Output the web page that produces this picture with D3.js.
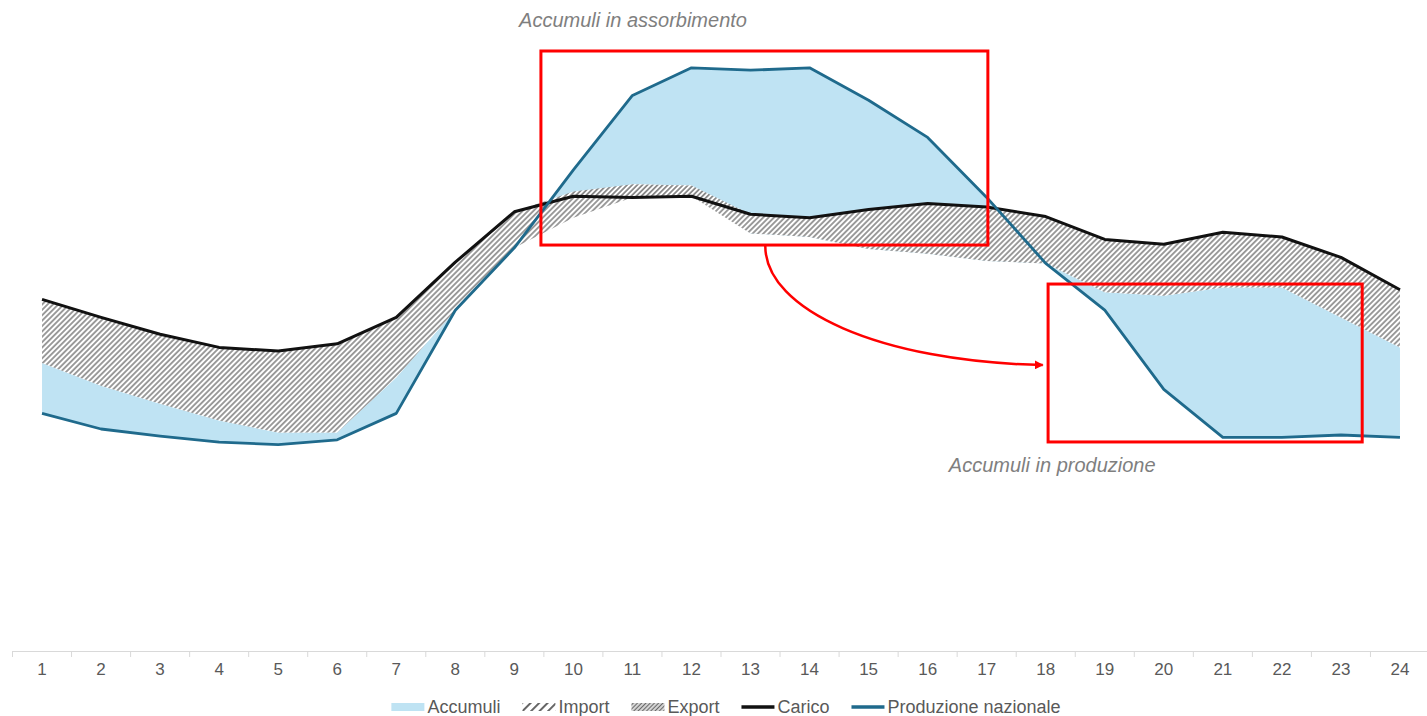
<!DOCTYPE html>
<html>
<head>
<meta charset="utf-8">
<script src="https://cdn.jsdelivr.net/npm/d3@7"></script>
<style>
  html, body { margin: 0; padding: 0; background: #fff; }
  svg { display: block; font-family: "Liberation Sans", Arial, sans-serif; }
</style>
</head>
<body>
<svg id="chart" width="1427" height="716"></svg>
<script>
// Ore del giorno (etichette dell'asse)
const ore = [1, 2, 3, 4, 5, 6, 7, 8, 9, 10, 11, 12, 13, 14, 15, 16, 17, 18, 19, 20, 21, 22, 23, 24];

// Profilo orario (GW)
const produzione = [19.8, 18.5, 17.9, 17.4, 17.2, 17.6, 19.8, 28.4, 33.6, 40.1, 46.3, 48.6,
                    48.4, 48.6, 45.9, 42.8, 37.8, 32.3, 28.4, 21.8, 17.8, 17.8, 18.0, 17.8];
const carico     = [29.3, 27.8, 26.4, 25.3, 25.0, 25.6, 27.8, 32.4, 36.6, 37.9, 37.8, 37.9,
                    36.4, 36.1, 36.8, 37.3, 37.0, 36.2, 34.3, 33.9, 34.9, 34.5, 32.8, 30.1];
// accumuli > 0 in produzione, < 0 in assorbimento
const accumuli   = [4.2, 3.6, 2.7, 1.8, 1.0, 0.6, 3.0, 0.0, 0.0, -3.6, -7.4, -9.8,
                    -13.6, -14.1, -12.4, -9.7, -5.3, 0.0, 1.5, 7.8, 12.5, 12.5, 9.8, 7.5];
const importazioni = [5.3, 5.7, 5.8, 6.1, 6.8, 7.4, 5.0, 4.0, 3.0, 1.8, 0.0, 0.0,
                      1.6, 1.6, 3.3, 4.2, 4.5, 3.9, 4.4, 4.3, 4.6, 4.2, 5.0, 4.8];
const esportazioni = [0, 0, 0, 0, 0, 0, 0, 0, 0, 0.4, 1.1, 0.9,
                      0, 0, 0, 0, 0, 0, 0, 0, 0, 0, 0, 0];

// Legenda
const legendaVoci = [
  { nome: "Accumuli", tipo: "area", fill: "#bfe3f3" },
  { nome: "Import", tipo: "area", fill: "url(#legImport)" },
  { nome: "Export", tipo: "area", fill: "url(#legExport)" },
  { nome: "Carico", tipo: "line", stroke: "#111111" },
  { nome: "Produzione nazionale", tipo: "line", stroke: "#1f6a8c" }
];

// Annotazioni (ore, GW)
const boxAssorbimento = { h0: 9.45, h1: 17.02, v0: 33.83, v1: 50.0 };
const boxProduzione   = { h0: 18.04, h1: 23.36, v0: 17.42, v1: 30.58 };
const freccia = [[13.25, 33.75], [13.25, 28.4], [15.2, 24.1], [17.95, 23.83]];
const etichette = [
  { testo: "Accumuli in assorbimento", h: 11.01, v: 52.0 },
  { testo: "Accumuli in produzione", h: 18.11, v: 14.92 }
];

const svg = d3.select("#chart");

const xBand = d3.scaleBand().domain(ore).range([12.5, 1429.5]).padding(0);
const x = d => xBand(d) + xBand.bandwidth() / 2;
const xh = d3.scaleLinear().domain([1, 24]).range([x(1), x(24)]);
const y = d3.scaleLinear().domain([0, 50]).range([651, 51]);

// Patterns for hatched bands
const defs = svg.append("defs");
function hatch(id, step, width, color, bg) {
  const p = defs.append("pattern")
    .attr("id", id)
    .attr("patternUnits", "userSpaceOnUse")
    .attr("width", step).attr("height", step)
    .attr("patternTransform", "rotate(45)");
  if (bg) p.append("rect").attr("width", step).attr("height", step).attr("fill", bg);
  p.append("line")
    .attr("x1", step / 2).attr("x2", step / 2)
    .attr("y1", 0).attr("y2", step)
    .attr("stroke", color).attr("stroke-width", width);
}
hatch("patImport", 3.8, 1.3, "#6a6a6a", "#ffffff");
hatch("patExport", 3.6, 1.3, "#5e5e5e", "#ffffff");
hatch("legImport", 6, 1.6, "#404040", null);
hatch("legExport", 3, 1.6, "#6a6a6a", null);

const rows = ore.map((h, i) => ({
  h,
  p: produzione[i],
  c: carico[i],
  acc: accumuli[i],
  imp: importazioni[i],
  exp: esportazioni[i]
}));

const plot = svg.append("g");

// Accumuli: banda tra produzione e produzione + accumuli
plot.append("path")
  .datum(rows)
  .attr("fill", "#bfe3f3")
  .attr("d", d3.area()
    .x(d => x(d.h))
    .y0(d => y(d.p))
    .y1(d => y(d.p + d.acc)));

// Import: banda sotto il carico
plot.append("path")
  .datum(rows)
  .attr("fill", "url(#patImport)")
  .attr("d", d3.area()
    .x(d => x(d.h))
    .y0(d => y(d.c - d.imp))
    .y1(d => y(d.c)));

// Export: banda sopra il carico
plot.append("path")
  .datum(rows)
  .attr("fill", "url(#patExport)")
  .attr("d", d3.area()
    .x(d => x(d.h))
    .y0(d => y(d.c))
    .y1(d => y(d.c + d.exp)));

// Linee
plot.append("path")
  .datum(rows)
  .attr("fill", "none")
  .attr("stroke", "#111111")
  .attr("stroke-width", 3)
  .attr("stroke-linejoin", "round")
  .attr("d", d3.line().x(d => x(d.h)).y(d => y(d.c)));

plot.append("path")
  .datum(rows)
  .attr("fill", "none")
  .attr("stroke", "#1f6a8c")
  .attr("stroke-width", 2.8)
  .attr("stroke-linejoin", "round")
  .attr("d", d3.line().x(d => x(d.h)).y(d => y(d.p)));

// Annotazioni
const ann = svg.append("g");
[boxAssorbimento, boxProduzione].forEach(b => {
  ann.append("rect")
    .attr("x", xh(b.h0)).attr("y", y(b.v1))
    .attr("width", xh(b.h1) - xh(b.h0))
    .attr("height", y(b.v0) - y(b.v1))
    .attr("fill", "none")
    .attr("stroke", "#ff0000")
    .attr("stroke-width", 3);
});

defs.append("marker")
  .attr("id", "punta")
  .attr("viewBox", "0 0 10 10")
  .attr("refX", 9).attr("refY", 5)
  .attr("markerWidth", 3.6).attr("markerHeight", 3.6)
  .attr("markerUnits", "strokeWidth")
  .attr("orient", "auto")
  .append("path")
  .attr("d", "M0,0 L10,5 L0,10 z")
  .attr("fill", "#ff0000");

const fp = freccia.map(([h, v]) => [xh(h), y(v)]);
ann.append("path")
  .attr("d", `M${fp[0]} C${fp[1]} ${fp[2]} ${fp[3]}`)
  .attr("fill", "none")
  .attr("stroke", "#ff0000")
  .attr("stroke-width", 2.5)
  .attr("marker-end", "url(#punta)");

etichette.forEach(e => {
  ann.append("text")
    .attr("x", xh(e.h)).attr("y", y(e.v))
    .attr("text-anchor", "middle")
    .attr("font-style", "italic")
    .attr("font-size", 20)
    .attr("fill", "#7f7f7f")
    .text(e.testo);
});

// Asse orizzontale
const axisG = svg.append("g").attr("transform", "translate(0,651)");
axisG.call(d3.axisBottom(xBand).tickSize(0).tickPadding(12))
  .call(g => g.select(".domain").attr("stroke", "#d9d9d9"))
  .call(g => g.selectAll("text")
    .attr("font-family", "\"Liberation Sans\", Arial, sans-serif")
    .attr("font-size", 17)
    .attr("fill", "#595959"));
axisG.selectAll(".tickmark")
  .data(ore.map(h => xBand(h)).concat([xBand(24) + xBand.bandwidth()]))
  .join("line")
  .attr("class", "tickmark")
  .attr("x1", d => d).attr("x2", d => d)
  .attr("y1", 0).attr("y2", 6)
  .attr("stroke", "#d9d9d9");

// Legenda
const leg = svg.append("g");
const sw = 33, gapTxt = 3, gapItem = 22;
let cursor = 0;
legendaVoci.forEach(v => {
  const g = leg.append("g");
  if (v.tipo === "area") {
    g.append("rect").attr("x", 0).attr("y", -4).attr("width", sw).attr("height", 8).attr("fill", v.fill);
  } else {
    g.append("line").attr("x1", 0).attr("x2", sw).attr("y1", 0).attr("y2", 0)
      .attr("stroke", v.stroke).attr("stroke-width", 3.5);
  }
  const t = g.append("text")
    .attr("x", sw + gapTxt).attr("y", 0).attr("dy", "0.35em")
    .attr("font-size", 18).attr("fill", "#595959")
    .text(v.nome);
  const w = sw + gapTxt + t.node().getComputedTextLength();
  g.attr("transform", `translate(${cursor},0)`);
  cursor += w + gapItem;
});
const legW = cursor - gapItem;
leg.attr("transform", `translate(${726 - legW / 2},707)`);
</script>
</body>
</html>
